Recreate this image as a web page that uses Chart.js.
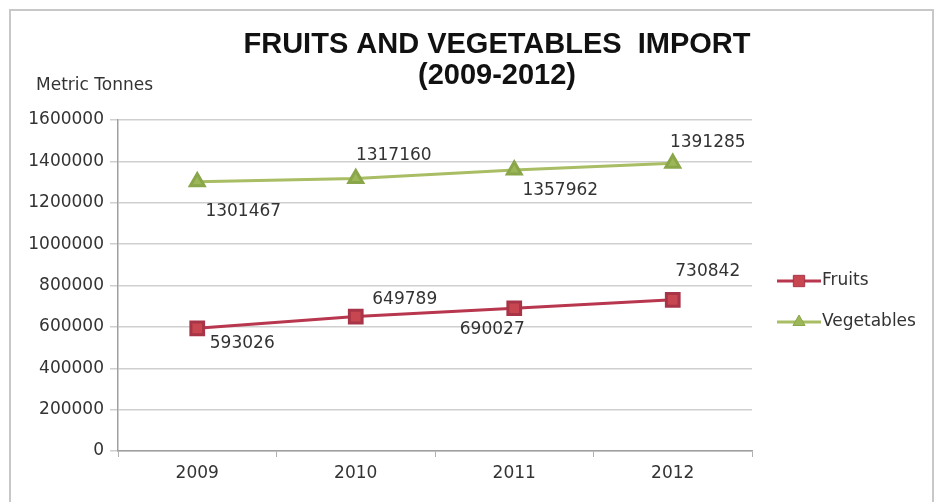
<!DOCTYPE html>
<html>
<head>
<meta charset="utf-8">
<script src="https://cdn.jsdelivr.net/npm/chart.js@4"></script>
<style>
  body { margin: 0; background: #fff; }
  #wrap { width: 937px; height: 502px; }
</style>
</head>
<body>
<div id="wrap"><canvas id="myChart" width="937" height="502"></canvas></div>
<script>
const years = ["2009", "2010", "2011", "2012"];
const fruits = [593026, 649789, 690027, 730842];
const vegetables = [1301467, 1317160, 1357962, 1391285];
const yTicks = [0, 200000, 400000, 600000, 800000, 1000000, 1200000, 1400000, 1600000];

// where each value label sits relative to its point (px)
const fruitLabelOffset = [[45, 15], [49, -17], [-22, 21], [35, -28]];
const vegLabelOffset = [[46, 30], [38, -23], [46, 21], [35, -21]];

const labelFont = "17px 'DejaVu Sans'";

// title, axis name, value labels, legend, frame
const extras = {
  id: "extras",
  beforeDraw(chart) {
    const c = chart.ctx;
    c.save();
    c.fillStyle = "#fff";
    c.fillRect(0, 0, chart.width, chart.height);
    c.strokeStyle = "#c8c8c8";
    c.lineWidth = 2;
    c.strokeRect(10, 10, chart.width - 14, chart.height - 8);
    c.restore();
  },
  afterDatasetsDraw(chart) {
    const c = chart.ctx;
    c.save();
    c.fillStyle = "#111";
    c.textAlign = "center";
    c.textBaseline = "middle";
    c.font = "bold 29px 'Liberation Sans'";
    c.fillText("FRUITS AND VEGETABLES  IMPORT", 497, 45);
    c.fillText("(2009-2012)", 497, 76);

    c.font = labelFont;
    c.fillStyle = "#333";
    c.textAlign = "left";
    c.fillText("Metric Tonnes", 36, 86);

    c.textAlign = "center";
    const offs = [fruitLabelOffset, vegLabelOffset];
    chart.data.datasets.forEach((ds, i) => {
      chart.getDatasetMeta(i).data.forEach((pt, j) => {
        const o = offs[i][j];
        c.fillText(String(ds.data[j]), pt.x + o[0], pt.y + o[1]);
      });
    });

    // legend
    c.textAlign = "left";
    const ly = [281, 322];
    chart.data.datasets.forEach((ds, i) => {
      const y = ly[i];
      c.strokeStyle = ds.borderColor;
      c.lineWidth = 3;
      c.beginPath();
      c.moveTo(777, y);
      c.lineTo(821, y);
      c.stroke();
      c.fillStyle = ds.pointBackgroundColor;
      c.strokeStyle = ds.pointBorderColor;
      c.lineWidth = 1;
      Chart.helpers.drawPoint(c, {pointStyle: ds.pointStyle, radius: ds.pointRadius - 1, borderWidth: 1}, 799, y);
      c.fillStyle = "#333";
      c.fillText(ds.label, 822, y);
    });
    c.restore();
  }
};

new Chart(document.getElementById("myChart"), {
  type: "line",
  data: {
    labels: years,
    datasets: [{
      label: "Fruits",
      data: fruits,
      borderColor: "#b8364e",
      borderWidth: 3,
      pointStyle: "rect",
      pointRadius: 9,
      pointBackgroundColor: "#c8464f",
      pointBorderColor: "#a83448",
      tension: 0
    }, {
      label: "Vegetables",
      data: vegetables,
      borderColor: "#a8bd64",
      borderWidth: 3,
      pointStyle: "triangle",
      pointRadius: 8,
      pointBackgroundColor: "#9bb757",
      pointBorderColor: "#8aa64a",
      tension: 0
    }]
  },
  options: {
    responsive: false,
    animation: false,
    layout: { padding: { top: 120, right: 185, bottom: 0, left: 0 } },
    plugins: {
      legend: { display: false },
      tooltip: { enabled: false }
    },
    scales: {
      x: {
        offset: true,
        grid: { display: true, drawOnChartArea: false, color: "#b0b0b0", tickLength: 6, offset: true },
        border: { color: "#a0a0a0", width: 1.5 },
        ticks: { color: "#333", font: { family: "DejaVu Sans", size: 17 }, padding: 6 },
        afterFit(scale) { scale.height = 51; }
      },
      y: {
        min: 0,
        max: 1600000,
        afterBuildTicks(scale) { scale.ticks = yTicks.map(v => ({ value: v })); },
        grid: { color: "#cfcfcf", lineWidth: 1.5, tickLength: 8 },
        border: { color: "#a0a0a0", width: 1.5 },
        ticks: {
          color: "#333",
          font: { family: "DejaVu Sans", size: 17 },
          padding: 6,
          callback: v => String(v)
        },
        afterFit(scale) { scale.width = 118; }
      }
    }
  },
  plugins: [extras]
});
</script>
</body>
</html>
